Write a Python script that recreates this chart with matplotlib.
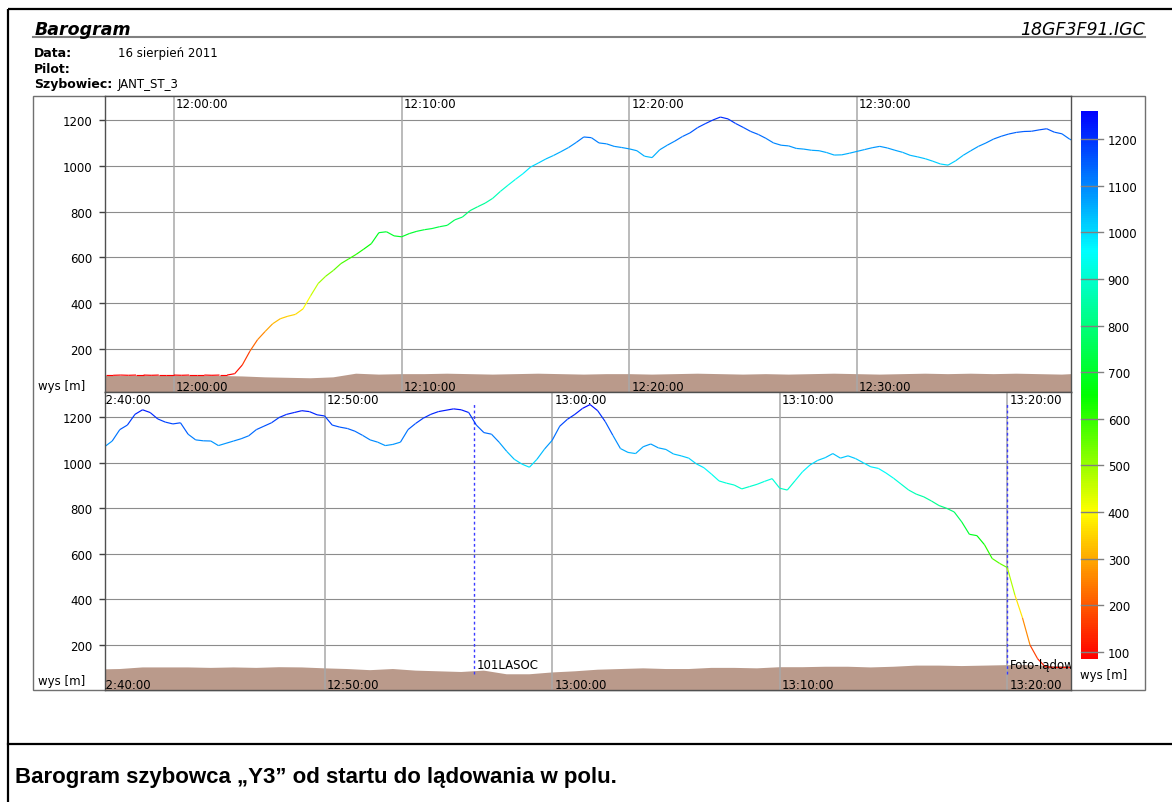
import numpy as np
import matplotlib
matplotlib.use("Agg")
import matplotlib.pyplot as plt
from matplotlib.collections import LineCollection
from matplotlib.colors import LinearSegmentedColormap, Normalize
from matplotlib.cm import ScalarMappable
from matplotlib.patches import Rectangle

# --- dane z loggera (czas w minutach od 12:00) ---
LOG_START_MIN = -3.0      # 11:57:00
LOG_STEP_S = 20           # interwal zapisu barografu
altitude = [
    85, 85, 86, 85, 86, 86, 85, 86, 86, 86,
    85, 86, 86, 86, 85, 86, 86, 92, 130, 190,
    240, 276, 310, 332, 343, 351, 375, 432, 486, 518,
    543, 573, 593, 613, 636, 660, 708, 712, 694, 690,
    704, 714, 721, 726, 734, 740, 764, 776, 804, 821,
    837, 858, 888, 915, 941, 966, 995, 1012, 1030, 1045,
    1062, 1080, 1102, 1126, 1123, 1100, 1096, 1085, 1080, 1074,
    1066, 1042, 1036, 1070, 1090, 1108, 1128, 1144, 1167, 1184,
    1200, 1213, 1205, 1185, 1168, 1150, 1137, 1120, 1100, 1090,
    1087, 1076, 1073, 1068, 1066, 1058, 1047, 1048, 1055, 1063,
    1071, 1079, 1085, 1078, 1068, 1059, 1046, 1039, 1031, 1020,
    1008, 1003, 1022, 1046, 1066, 1085, 1100, 1117, 1129, 1139,
    1146, 1150, 1151, 1157, 1162, 1147, 1140, 1117,
    1100,
    1060, 1070, 1095, 1145, 1165, 1212, 1232, 1220, 1192, 1178,
    1170, 1175, 1125, 1100, 1096, 1095, 1075, 1085, 1095, 1105,
    1118, 1145, 1160, 1175, 1198, 1212, 1220, 1228, 1224, 1210,
    1205, 1165, 1156, 1150, 1138, 1120, 1100, 1090, 1075, 1080,
    1090, 1145, 1172, 1195, 1212, 1224, 1230, 1236, 1232, 1220,
    1165, 1132, 1125, 1090, 1050, 1015, 994, 980, 1015, 1060,
    1098, 1160, 1190, 1212, 1238, 1255, 1228, 1180, 1120, 1062,
    1045, 1040, 1070, 1082, 1065, 1058, 1038, 1030, 1020, 995,
    978, 950, 920, 910, 902, 885, 895, 905, 918, 930,
    888, 880, 920, 960, 990, 1010, 1022, 1040, 1020, 1030,
    1018, 1000, 982, 975, 955, 932, 906, 880, 862, 850,
    832, 812, 800, 784, 740, 686, 680, 640, 580, 558,
    540, 420, 320, 200, 140, 105, 102, 102, 102, 102,
]

GROUND_START_MIN = -3.0
GROUND_STEP_S = 60
ground = [
    82, 82, 83, 83, 82, 82, 80, 76, 74, 72,
    76, 92, 88, 90, 90, 92, 90, 88, 90, 92,
    90, 88, 90, 90, 88, 90, 92, 90, 88, 90,
    88, 90, 92, 90, 88, 90, 92, 90, 92, 90,
    92, 90, 88, 93, 95, 102, 102, 102, 100, 102,
    100, 103, 102, 98, 95, 90, 95, 88, 85, 82,
    88, 72, 72, 80, 85, 92, 95, 98, 95, 95,
    100, 100, 98, 103, 103, 105, 105, 102, 105, 110,
    110, 108, 110, 112, 112, 108, 108,
]

panel_ranges = [(-3.03, 39.4), (40.35, 82.8)]
panel_ylims = [(12, 1305), (3, 1310)]
hour_ticks = [[0, 10, 20, 30], [40, 50, 60, 70, 80]]
y_ticks = [200, 400, 600, 800, 1000, 1200]
cbar_ticks = [100, 200, 300, 400, 500, 600, 700, 800, 900, 1000, 1100, 1200]
cbar_range = (85, 1260)
markers = [(56.55, "101LASOC"), (80.0, "Foto-lądowanie")]


def hhmmss(m):
    s = int(round(12 * 3600 + m * 60))
    return f"{s // 3600:02d}:{s % 3600 // 60:02d}:{s % 60:02d}"


W, H = 1172, 803
fig = plt.figure(figsize=(W / 100, H / 100), dpi=100)


def px_axes(x0, y0, x1, y1):
    return fig.add_axes([x0 / W, 1 - y1 / H, (x1 - x0) / W, (y1 - y0) / H])


# tlo: ramki i opisy w pikselach
bg = px_axes(0, 0, W, H)
bg.set_xlim(0, W)
bg.set_ylim(H, 0)
bg.axis("off")
bg.add_patch(Rectangle((8, 10), W, H, fill=False, ec="black", lw=1.6, clip_on=False))
bg.plot([8, W], [745, 745], color="black", lw=1.6)
bg.plot([33, 1145], [37.5, 37.5], color="#808080", lw=1.5)
bg.add_patch(Rectangle((33, 97), 1112, 594, fill=False, ec="#707070", lw=1))

bg.text(35, 35, "Barogram", fontsize=12.5, fontweight="bold", style="italic", va="baseline")
bg.text(1145, 35, "18GF3F91.IGC", fontsize=12.5, style="italic", ha="right", va="baseline")
bg.text(34, 57, "Data:", fontsize=9, fontweight="bold", va="baseline")
bg.text(118, 57, "16 sierpień 2011", fontsize=8.5, va="baseline")
bg.text(34, 73, "Pilot:", fontsize=9, fontweight="bold", va="baseline")
bg.text(34, 88, "Szybowiec:", fontsize=9, fontweight="bold", va="baseline")
bg.text(118, 88, "JANT_ST_3", fontsize=8.5, va="baseline")
bg.text(38, 390, "wys [m]", fontsize=8.5, va="baseline")
bg.text(38, 685, "wys [m]", fontsize=8.5, va="baseline")
bg.text(1080, 679, "wys [m]", fontsize=8.5, va="baseline")
bg.text(15, 783, "Barogram szybowca \u201eY3\u201d od startu do lądowania w polu.",
        fontsize=16, fontweight="bold", family="Liberation Sans", va="baseline")

# kolory wysokosci
lo, hi = cbar_range
cmap = LinearSegmentedColormap.from_list("wys", [
    (0.0, "#ff0000"),
    ((250 - lo) / (hi - lo), "#ff8000"),
    ((400 - lo) / (hi - lo), "#ffff00"),
    ((650 - lo) / (hi - lo), "#00ff00"),
    ((960 - lo) / (hi - lo), "#00ffff"),
    (1.0, "#0000ff"),
])
norm = Normalize(lo, hi)

t = LOG_START_MIN + np.arange(len(altitude)) * LOG_STEP_S / 60
alt = np.array(altitude, dtype=float)
gt = GROUND_START_MIN + np.arange(len(ground)) * GROUND_STEP_S / 60
pts = np.column_stack([t, alt]).reshape(-1, 1, 2)
segs = np.concatenate([pts[:-1], pts[1:]], axis=1)
seg_alt = (alt[:-1] + alt[1:]) / 2

panels = [px_axes(105, 97, 1071, 393), px_axes(105, 393, 1071, 691)]
for i, ax in enumerate(panels):
    ax.set_xlim(*panel_ranges[i])
    ax.set_ylim(*panel_ylims[i])
    ax.set_xticks([])
    ax.set_yticks(y_ticks)
    ax.tick_params(axis="y", length=4, width=1, color="#404040", pad=5, labelsize=8.5)
    for s in ax.spines.values():
        s.set_color("#505050")
        s.set_linewidth(1)

    ax.fill_between(gt, 0, ground, color="#ba9a8b", lw=0, zorder=0.3)
    for v in y_ticks:
        ax.axhline(v, color="#8c8c8c", lw=0.8, zorder=0.5)
    for m in hour_ticks[i]:
        ax.axvline(m, color="#a8a8a8", lw=1.1, zorder=0.5)
        ax.text(m + 0.09, 0.997, hhmmss(m), transform=ax.get_xaxis_transform(),
                fontsize=8.5, va="top", clip_on=True, zorder=3)
        ax.text(m + 0.09, 0.008, hhmmss(m), transform=ax.get_xaxis_transform(),
                fontsize=8.5, va="baseline", clip_on=True, zorder=3)

    lc = LineCollection(segs, cmap=cmap, norm=norm, linewidths=0.85, zorder=2)
    lc.set_array(seg_alt)
    ax.add_collection(lc)

bot = panels[1]
for m, name in markers:
    bot.vlines(m, 73, 1257, colors="#3a3aff", linestyles=(0, (2, 2)), lw=1.0, zorder=1.5)
    bot.text(m + 0.12, 100, name, fontsize=8.5, va="baseline", clip_on=True, zorder=3)

# skala kolorow
cax = px_axes(1081, 112, 1098, 660)
cb = fig.colorbar(ScalarMappable(norm=norm, cmap=cmap), cax=cax)
cb.outline.set_visible(False)
cb.set_ticks(cbar_ticks)
cax.tick_params(length=0, pad=7, labelsize=8.5)
for v in cbar_ticks:
    cax.plot([0, 1.3], [v, v], color="#808080", lw=1, transform=cax.get_yaxis_transform(),
             clip_on=False)

fig.savefig("out.png", dpi=100)
